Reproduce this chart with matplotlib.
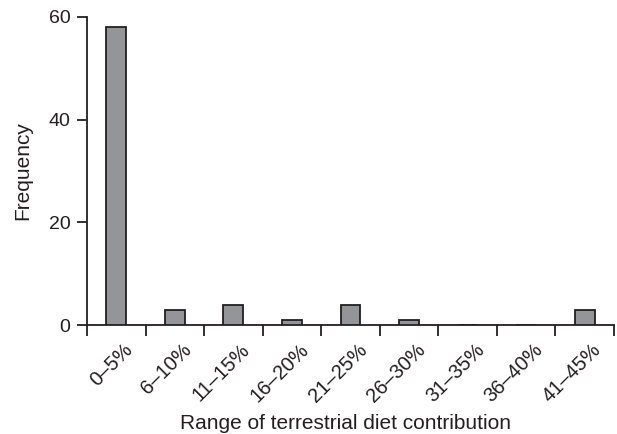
import matplotlib
matplotlib.use("Agg")
import matplotlib.pyplot as plt
import numpy as np

categories = ["0–5%", "6–10%", "11–15%", "16–20%", "21–25%",
              "26–30%", "31–35%", "36–40%", "41–45%"]
frequency = [58, 3, 4, 1, 4, 1, 0, 0, 3]

plt.rcParams["font.family"] = ["Liberation Sans", "DejaVu Sans"]

fig = plt.figure(figsize=(6.17, 4.34), dpi=100)
ax = fig.add_axes([0.141, 0.251, 0.854, 0.71])

x = np.arange(len(categories))
ax.bar(x, frequency, width=0.34, color="#939598", edgecolor="#231f20",
       linewidth=1.3, zorder=3)

ax.set_xlim(-0.5, len(categories) - 0.5)
ax.set_ylim(0, 60)
ax.set_yticks([0, 20, 40, 60])

# boundary ticks (no labels), labels at centres (no tick marks)
ax.set_xticks(np.arange(len(categories) + 1) - 0.5)
ax.set_xticklabels([])
ax.set_xticks(x + 0.12, minor=True)
ax.set_xticklabels(categories, minor=True, rotation=45, ha="right",
                   rotation_mode="anchor", fontsize=14.5, color="#231f20")
ax.tick_params(axis="x", which="major", length=8, width=1.3,
               color="#231f20", direction="out")
ax.tick_params(axis="x", which="minor", length=0, pad=11)
ax.tick_params(axis="y", length=7, width=1.3, color="#231f20", pad=5,
               labelsize=14, labelcolor="#231f20")

for s in ["top", "right"]:
    ax.spines[s].set_visible(False)
for s in ["left", "bottom"]:
    ax.spines[s].set_linewidth(1.3)
    ax.spines[s].set_color("#231f20")

ax.set_ylabel("Frequency", fontsize=15, color="#231f20", labelpad=12)
fig.text(0.56, 0.024, "Range of terrestrial diet contribution", fontsize=15,
         color="#231f20", ha="center", va="center")

fig.savefig("out.png", dpi=100)
